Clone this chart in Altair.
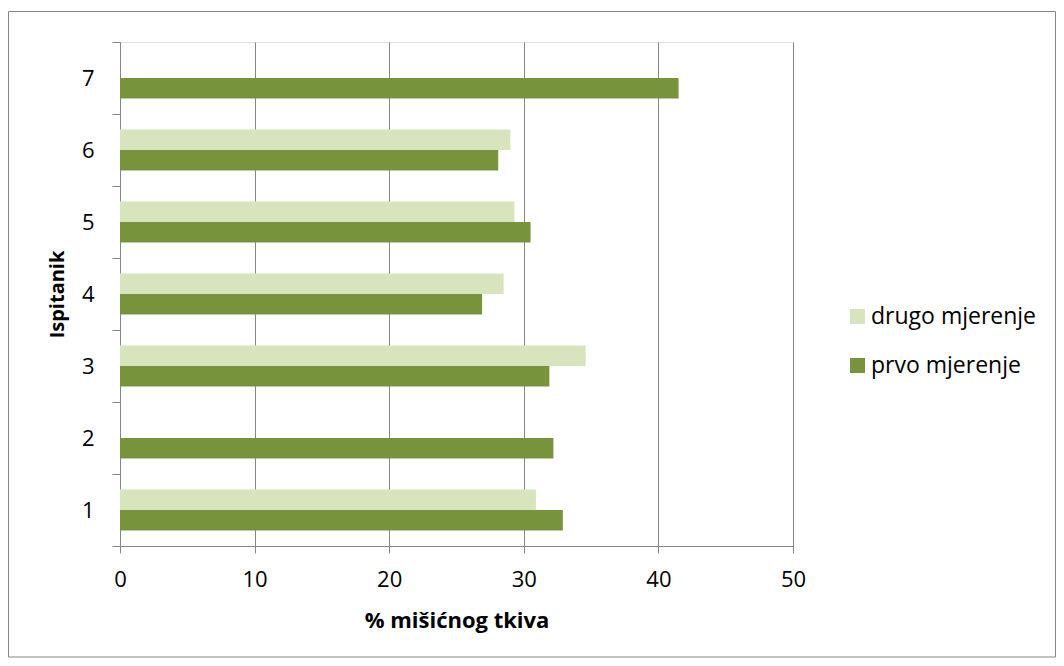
import altair as alt
import pandas as pd

categories = ["1", "2", "3", "4", "5", "6", "7"]
prvo_mjerenje = [32.9, 32.2, 31.9, 26.9, 30.5, 28.1, 41.5]
drugo_mjerenje = [30.9, None, 34.6, 28.5, 29.3, 29.0, None]
series = ["drugo mjerenje", "prvo mjerenje"]
colors = ["#d7e4bd", "#77933c"]
x_ticks = [0, 10, 20, 30, 40, 50]

rows = []
for c, d, p in zip(categories, drugo_mjerenje, prvo_mjerenje):
    if d is not None:
        rows.append({"Ispitanik": c, "serija": series[0], "v": d})
    rows.append({"Ispitanik": c, "serija": series[1], "v": p})
df = pd.DataFrame(rows)

GRAY = "#868686"
FONT = "Open Sans"

bars = alt.Chart(df).mark_bar().encode(
    x=alt.X(
        "v:Q",
        scale=alt.Scale(domain=[0, 50], nice=False),
        axis=alt.Axis(
            values=x_ticks,
            title="% mišićnog tkiva",
            grid=True,
            gridColor=GRAY,
            gridWidth=1,
            domainColor=GRAY,
            domainWidth=1,
            tickColor=GRAY,
            tickSize=7,
            labelFlush=False,
            labelFont=FONT,
            labelFontSize=22,
            labelColor="#000000",
            labelPadding=16,
            titleFont=FONT,
            titleFontSize=22,
            titleFontWeight="bold",
            titleColor="#000000",
            titleY=74,
            titleBaseline="middle",
        ),
    ),
    y=alt.Y(
        "Ispitanik:N",
        sort=categories[::-1],
        scale=alt.Scale(paddingInner=0, paddingOuter=0),
        axis=alt.Axis(
            title="Ispitanik",
            tickBand="extent",
            grid=False,
            domainColor=GRAY,
            domainWidth=1,
            tickColor=GRAY,
            tickSize=8,
            labelFont=FONT,
            labelFontSize=22,
            labelColor="#000000",
            labelPadding=18,
            titleFont=FONT,
            titleFontSize=20,
            titleFontWeight="bold",
            titleColor="#000000",
            titleX=-63,
            titleY=252,
            titleAngle=270,
            titleBaseline="middle",
            titleAlign="center",
        ),
    ),
    yOffset=alt.YOffset(
        "serija:N",
        scale=alt.Scale(domain=series, paddingInner=0, paddingOuter=0.756),
    ),
    color=alt.Color(
        "serija:N",
        scale=alt.Scale(domain=series, range=colors),
        legend=alt.Legend(
            title=None,
            orient="none",
            legendX=726,
            legendY=263,
            padding=0,
            symbolType="square",
            symbolSize=225,
            symbolStrokeWidth=0,
            labelFont=FONT,
            labelFontSize=23,
            labelColor="#000000",
            labelOffset=2,
            labelLimit=400,
            rowPadding=25,
        ),
    ),
)

frame = alt.Chart(alt.Data(values=[{}])).mark_rect(
    filled=False, stroke=GRAY, strokeWidth=1
).encode(
    x=alt.value(-111.5), x2=alt.value(935.5), y=alt.value(-30.5), y2=alt.value(615)
)

chart = alt.layer(frame, bars).properties(
    width=673,
    height=504,
    autosize=alt.AutoSizeParams(type="none"),
    padding={"left": 112, "top": 34, "right": 263, "bottom": 112},
).configure_view(stroke=None).configure(font=FONT)

chart.save("out.html", embed_options={"renderer": "svg", "actions": False})
